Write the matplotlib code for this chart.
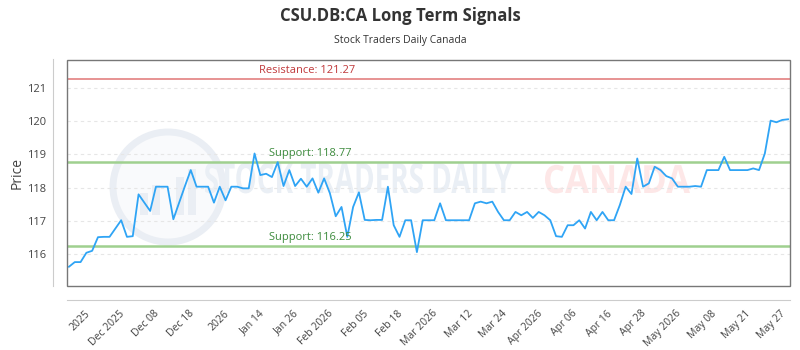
import matplotlib
matplotlib.use('Agg')
import matplotlib.pyplot as plt
from matplotlib.patches import Rectangle, Circle, PathPatch
from matplotlib.textpath import TextPath
from matplotlib.font_manager import FontProperties
from matplotlib.transforms import Affine2D, blended_transform_factory

# 数据：收盘价
prices = [
    115.62, 115.76, 115.76, 116.04, 116.10, 116.51, 116.52, 116.52, 116.77, 117.02,
    116.52, 116.54, 117.80, 117.55, 117.30, 118.03, 118.03, 118.03, 117.05, 117.55,
    118.05, 118.53, 118.03, 118.03, 118.03, 117.55, 118.03, 117.62, 118.03, 118.03,
    117.98, 117.98, 119.03, 118.38, 118.42, 118.32, 118.77, 118.05, 118.53, 118.05,
    118.27, 118.03, 118.28, 117.85, 118.28, 117.83, 117.14, 117.42, 116.52, 117.42,
    117.86, 117.03, 117.02, 117.03, 117.03, 118.03, 116.87, 116.52, 117.02, 117.02,
    116.06, 117.02, 117.02, 117.02, 117.53, 117.02, 117.02, 117.02, 117.02, 117.02,
    117.53, 117.58, 117.53, 117.58, 117.27, 117.02, 117.02, 117.27, 117.17, 117.27,
    117.09, 117.27, 117.17, 117.02, 116.54, 116.52, 116.87, 116.87, 117.02, 116.77,
    117.27, 117.02, 117.27, 117.02, 117.02, 117.48, 118.03, 117.81, 118.88, 118.03,
    118.13, 118.63, 118.53, 118.35, 118.28, 118.03, 118.03, 118.03, 118.05, 118.03,
    118.53, 118.53, 118.53, 118.93, 118.53, 118.53, 118.53, 118.53, 118.58, 118.53,
    119.03, 120.02, 119.97, 120.04, 120.06,
]
tick_labels = ['2025', 'Dec 2025', 'Dec 08', 'Dec 18', '2026', 'Jan 14', 'Jan 26',
               'Feb 2026', 'Feb 05', 'Feb 18', 'Mar 2026', 'Mar 12', 'Mar 24',
               'Apr 2026', 'Apr 06', 'Apr 16', 'Apr 28', 'May 2026', 'May 08',
               'May 21', 'May 27']
tick_pos = [4 + 6 * i for i in range(len(tick_labels))]
resistance = 121.27
supports = [118.77, 116.25]
y_ticks = [116, 117, 118, 119, 120, 121]

plt.rcParams['font.family'] = ['Open Sans', 'DejaVu Sans']

fig = plt.figure(figsize=(8, 3.5), dpi=100)
ax = fig.add_axes([67 / 800, 1 - 286 / 350, 723 / 800, 226.5 / 350])
px = Affine2D().scale(1 / 800, 1 / 350) + fig.transFigure


# 水印（像素坐标，y 向上）
def wm_text(s, x0, x1, y_base, cap, color):
    tp = TextPath((0, 0), s, size=1, prop=FontProperties(family='Open Sans', weight='bold'))
    ext = tp.get_extents()
    sx = (x1 - x0) / ext.width
    sy = cap / 0.72
    tr = Affine2D().translate(-ext.x0, 0).scale(sx, sy).translate(x0, 350 - y_base)
    fig.patches.append(PathPatch(tp, transform=tr + px, color=color, lw=0, zorder=-1))


fig.patches.append(Circle((168, 350 - 187), 55, transform=px,
                          facecolor='#f9fafc', edgecolor='#eaeef4', lw=5, zorder=-1))
for bx, bh in [(140, 22), (152, 30), (176, 38), (188, 46)]:
    fig.patches.append(Rectangle((bx, 350 - 215), 8, bh, transform=px,
                                 color='#eaeef4', lw=0, zorder=-1))
wm_text('STOCK TRADERS DAILY', 205, 512, 193, 30, '#eaeff5')
wm_text('CANADA', 545, 690, 193, 28, '#fde7e7')
ax.set_facecolor('none')

x = list(range(len(prices)))
ax.plot(x, prices, color='#2fa4f5', lw=1.3, zorder=3)

ax.axhline(resistance, color='#e58a8a', lw=1.3, zorder=2)
for s in supports:
    ax.axhline(s, color='#9fd08f', lw=1.8, zorder=2)

tr = blended_transform_factory(ax.transAxes, ax.transData)
ax.text(0.332, resistance + 0.08, f'Resistance: {resistance:.2f}', transform=tr,
        ha='center', va='bottom', fontsize=8, color='#c0393b')
for s in supports:
    ax.text(0.336, s + 0.08, f'Support: {s:.2f}', transform=tr,
            ha='center', va='bottom', fontsize=8, color='#3d8b3d')

ax.set_xlim(-0.34, len(prices) - 1 + 0.34)
ax.set_ylim(115.04, 121.86)
ax.grid(axis='y', color='#e6e6e6', ls=(0, (3, 3)), lw=0.8)
ax.set_axisbelow(True)

# 移动 spine 和改 pad 都会重建刻度，所以最后再设标签
for sp in ['top', 'right']:
    ax.spines[sp].set_visible(False)
ax.spines['left'].set_position(('outward', 10))
ax.spines['bottom'].set_position(('outward', 10))
for sp in ['left', 'bottom']:
    ax.spines[sp].set_color('#cccccc')
ax.tick_params(length=0, colors='#444444')
ax.tick_params(axis='y', pad=5, labelsize=8)
ax.tick_params(axis='x', pad=6, labelsize=7.5)
ax.set_yticks(y_ticks)
ax.set_xticks(tick_pos)
ax.set_xticklabels(tick_labels, rotation=45, ha='right')

ax.add_patch(Rectangle((0, 0), 1, 1, transform=ax.transAxes, fill=False,
                       edgecolor='#777777', lw=1, clip_on=False, zorder=4))

ax.set_ylabel('Price', fontsize=10, color='#444444', labelpad=2)

fig.text(0.5, 1 - 16 / 350, 'CSU.DB:CA Long Term Signals', ha='center', va='center',
         fontsize=12, fontweight='bold', color='#333333')
fig.text(0.5, 1 - 40 / 350, 'Stock Traders Daily Canada', ha='center', va='center',
         fontsize=7.5, color='#333333')

fig.savefig('out.png', dpi=100)
